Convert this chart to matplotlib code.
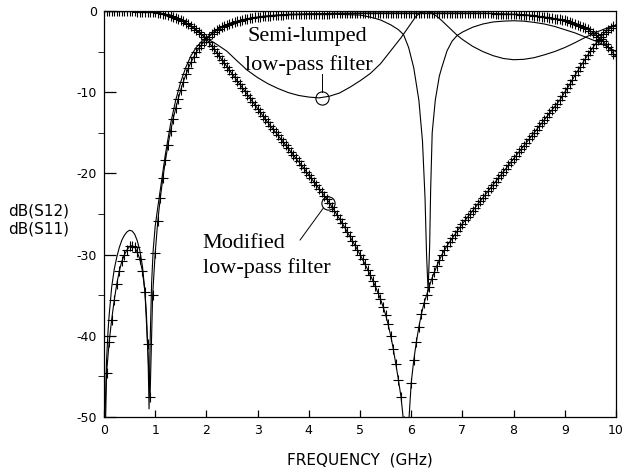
import numpy as np
import matplotlib
matplotlib.use("Agg")
from matplotlib import pyplot as plt
from matplotlib.ticker import MultipleLocator

# ---- data --------------------------------------------------------------
# modified low-pass filter, sampled every 0.05 GHz (drawn with '+' marks)
freq_mod = np.linspace(0.0, 10.0, 201)

s12_mod = [
    0.00, -0.01, -0.01, -0.02, -0.02, -0.03, -0.03, -0.04, -0.04, -0.05,
    -0.05, -0.06, -0.06, -0.07, -0.08, -0.09, -0.10, -0.11, -0.13, -0.15,
    -0.18, -0.22, -0.27, -0.33, -0.40, -0.48, -0.58, -0.69, -0.82, -0.96,
    -1.11, -1.28, -1.46, -1.66, -1.87, -2.10, -2.35, -2.61, -2.88, -3.16,
    -3.45, -3.85, -4.27, -4.70, -5.13, -5.56, -5.99, -6.42, -6.85, -7.28,
    -7.71, -8.14, -8.57, -9.00, -9.43, -9.86, -10.29, -10.72, -11.15, -11.58,
    -12.01, -12.44, -12.87, -13.30, -13.73, -14.13, -14.53, -14.93, -15.33, -15.73,
    -16.13, -16.53, -16.93, -17.33, -17.73, -18.13, -18.53, -18.93, -19.35, -19.77,
    -20.19, -20.61, -21.03, -21.45, -21.87, -22.30, -22.73, -23.16, -23.60, -24.10,
    -24.60, -25.10, -25.60, -26.10, -26.65, -27.20, -27.75, -28.30, -28.85, -29.40,
    -30.00, -30.60, -31.20, -31.85, -32.50, -33.20, -33.90, -34.70, -35.50, -36.40,
    -37.40, -38.60, -40.00, -41.60, -43.50, -45.40, -47.50, -50.50, -56.00, -50.80,
    -45.80, -43.00, -40.80, -38.90, -37.30, -36.00, -35.00, -34.00, -33.00, -32.20,
    -31.40, -30.70, -30.00, -29.45, -28.90, -28.45, -28.00, -27.55, -27.10, -26.65,
    -26.20, -25.80, -25.40, -25.00, -24.60, -24.20, -23.80, -23.40, -23.00, -22.60,
    -22.20, -21.80, -21.40, -21.00, -20.60, -20.20, -19.80, -19.40, -19.00, -18.60,
    -18.20, -17.80, -17.40, -17.00, -16.60, -16.20, -15.80, -15.40, -15.00, -14.60,
    -14.20, -13.80, -13.40, -13.00, -12.60, -12.20, -11.80, -11.40, -11.00, -10.50,
    -10.00, -9.50, -9.00, -8.45, -7.90, -7.40, -6.90, -6.40, -5.90, -5.40,
    -4.95, -4.50, -4.05, -3.60, -3.20, -2.85, -2.55, -2.30, -2.05, -1.85,
    -1.70,
]

s11_mod = [
    -60.0, -44.6, -40.8, -38.0, -35.6, -33.6, -32.0, -30.8, -30.0, -29.4,
    -29.0, -28.9, -29.1, -29.7, -30.6, -32.0, -34.6, -41.0, -47.5, -35.0,
    -29.8, -25.9, -23.0, -20.6, -18.4, -16.5, -14.8, -13.3, -12.0, -10.8,
    -9.7, -8.7, -7.8, -7.0, -6.3, -5.7, -5.1, -4.6, -4.2, -3.8,
    -3.45, -3.15, -2.87, -2.62, -2.40, -2.20, -2.02, -1.86, -1.72, -1.59,
    -1.47, -1.36, -1.26, -1.17, -1.09, -1.02, -0.95, -0.89, -0.84, -0.79,
    -0.74, -0.70, -0.66, -0.62, -0.59, -0.56, -0.53, -0.51, -0.49, -0.47,
    -0.45, -0.43, -0.42, -0.41, -0.40, -0.39, -0.38, -0.37, -0.36, -0.35,
    -0.35, -0.34, -0.34, -0.33, -0.33, -0.32, -0.32, -0.31, -0.31, -0.30,
    -0.30, -0.30, -0.29, -0.29, -0.29, -0.28, -0.28, -0.28, -0.27, -0.27,
    -0.27, -0.27, -0.26, -0.26, -0.26, -0.26, -0.25, -0.25, -0.25, -0.25,
    -0.25, -0.24, -0.24, -0.24, -0.24, -0.24, -0.24, -0.24, -0.24, -0.24,
    -0.24, -0.24, -0.24, -0.24, -0.24, -0.24, -0.24, -0.24, -0.24, -0.24,
    -0.24, -0.24, -0.24, -0.24, -0.24, -0.25, -0.25, -0.25, -0.25, -0.25,
    -0.25, -0.25, -0.26, -0.26, -0.26, -0.27, -0.27, -0.27, -0.28, -0.28,
    -0.29, -0.29, -0.30, -0.31, -0.32, -0.33, -0.34, -0.35, -0.36, -0.37,
    -0.38, -0.40, -0.42, -0.44, -0.46, -0.48, -0.50, -0.54, -0.58, -0.62,
    -0.66, -0.70, -0.74, -0.78, -0.83, -0.88, -0.93, -0.98, -1.03, -1.08,
    -1.13, -1.20, -1.30, -1.42, -1.55, -1.68, -1.80, -1.92, -2.05, -2.20,
    -2.45, -2.70, -2.95, -3.20, -3.45, -3.75, -4.10, -4.45, -4.85, -5.25,
    -5.60,
]

# semi-lumped low-pass filter (plain lines)
freq_sl_s12 = [0.0, 0.5, 1.0, 1.2, 1.4, 1.6, 1.8, 2.0, 2.2, 2.4, 2.6, 2.8,
               3.0, 3.2, 3.4, 3.6, 3.8, 4.0, 4.2, 4.4, 4.6, 4.8, 5.0, 5.2,
               5.4, 5.6, 5.8, 5.9, 6.0, 6.1, 6.2, 6.3, 6.4, 6.5, 6.6, 6.7,
               6.8, 6.9, 7.0, 7.2, 7.4, 7.6, 7.8, 8.0, 8.2, 8.4, 8.6, 8.8,
               9.0, 9.2, 9.4, 9.6, 9.8, 10.0]
s12_sl = [0.0, -0.02, -0.15, -0.38, -0.80, -1.50, -2.35, -3.35, -4.10, -4.95,
          -6.15, -7.30, -8.20, -8.95, -9.55, -10.05, -10.40, -10.60, -10.70,
          -10.50, -10.10, -9.40, -8.60, -7.70, -6.50, -4.90, -3.30, -2.40,
          -1.50, -0.60, -0.15, -0.05, -0.25, -0.65, -1.20, -1.80, -2.40,
          -3.00, -3.50, -4.35, -5.00, -5.50, -5.85, -6.00, -5.95, -5.75,
          -5.40, -5.00, -4.50, -3.90, -3.25, -2.65, -2.15, -1.75]

freq_sl_s11 = [0.0, 0.02, 0.05, 0.08, 0.1, 0.15, 0.2, 0.25, 0.3, 0.35, 0.4,
               0.45, 0.5, 0.55, 0.6, 0.65, 0.7, 0.75, 0.8, 0.83, 0.86, 0.88,
               0.9, 0.93, 0.96, 1.0, 1.05, 1.1, 1.15, 1.2, 1.3, 1.4, 1.5,
               1.6, 1.7, 1.8, 1.9, 2.0, 2.2, 2.4, 2.7, 3.0, 3.5, 4.0, 4.5,
               5.0, 5.2, 5.4, 5.6, 5.75, 5.85, 5.95, 6.05, 6.15, 6.22, 6.27,
               6.3, 6.33, 6.36, 6.38, 6.41, 6.47, 6.55, 6.6, 6.7, 6.8, 6.9,
               7.0, 7.2, 7.4, 7.6, 7.8, 8.0, 8.2, 8.4, 8.6, 8.8, 9.0, 9.2,
               9.4, 9.6, 9.8, 10.0]
s11_sl = [-62.0, -50.0, -43.0, -39.3, -37.5, -34.0, -31.8, -30.3, -29.1,
          -28.2, -27.6, -27.2, -27.0, -27.1, -27.5, -28.3, -29.5, -31.4,
          -34.6, -37.5, -42.5, -49.0, -41.0, -33.5, -29.5, -26.5, -24.2,
          -22.0, -19.8, -17.6, -13.9, -11.0, -8.7, -6.9, -5.5, -4.5, -3.8,
          -3.3, -2.3, -1.7, -1.1, -0.8, -0.5, -0.4, -0.4, -0.5, -0.75,
          -1.1, -1.7, -2.3, -2.9, -4.5, -7.0, -11.0, -16.0, -23.0, -30.0,
          -34.5, -29.0, -22.0, -15.0, -11.0, -8.0, -6.9, -4.9, -3.7, -3.0,
          -2.6, -2.0, -1.6, -1.35, -1.25, -1.2, -1.25, -1.4, -1.6, -1.9,
          -2.3, -2.7, -3.2, -3.7, -4.3, -5.0]

x_ticks = list(range(0, 11))
y_ticks = list(range(-50, 1, 10))

# ---- figure -----------------------------------------------------------------
plt.rcParams['axes.unicode_minus'] = False
plt.rcParams['font.family'] = 'DejaVu Sans'

fig = plt.figure(figsize=(6.28, 4.73), dpi=100)
ax = fig.add_axes([104 / 628, 1 - 417 / 473, 512 / 628, 406 / 473])

ln = dict(color='black', lw=0.8)
ax.plot(freq_sl_s12, s12_sl, **ln)
ax.plot(freq_sl_s11, s11_sl, **ln)
ax.plot(freq_mod, s12_mod, marker='+', ms=6.5, mew=0.8, **ln)
ax.plot(freq_mod, s11_mod, marker='+', ms=6.5, mew=0.8, **ln)

ax.set_xlim(0, 10)
ax.set_ylim(-50, 0)
ax.set_xticks(x_ticks)
ax.set_yticks(y_ticks)
ax.yaxis.set_minor_locator(MultipleLocator(5))
ax.tick_params(direction='in', labelsize=9, width=0.9)
ax.tick_params(axis='x', length=5, pad=5)
ax.tick_params(axis='y', which='major', length=8.5, pad=5)
ax.tick_params(axis='y', which='minor', length=4)
for sp in ax.spines.values():
    sp.set_linewidth(0.9)

# annotations
serif = {'family': 'Liberation Serif', 'size': 16}
ax.text(2.81, -3.7, 'Semi-lumped', **serif)
ax.text(2.75, -7.27, 'low-pass filter', **serif)
ax.plot([4.26, 4.26], [-7.7, -10.0], color='black', lw=0.7)
ax.plot([4.26], [-10.75], marker='o', ms=9.5, mfc='none', mec='black', mew=0.8)

ax.text(1.93, -29.2, 'Modified', **serif)
ax.text(1.93, -32.3, 'low-pass filter', **serif)
ax.plot([3.83, 4.28], [-28.2, -24.3], color='black', lw=0.7)
ax.plot([4.375], [-23.65], marker='o', ms=9.5, mfc='none', mec='black', mew=0.8)

fig.text(8 / 628, 1 - 215 / 473, 'dB(S12)', fontsize=11, va='baseline')
fig.text(8 / 628, 1 - 233 / 473, 'dB(S11)', fontsize=11, va='baseline')
fig.text(360 / 628, 1 - 464 / 473, 'FREQUENCY  (GHz)', fontsize=11,
         ha='center', va='baseline')

plt.savefig('out.png', dpi=100)
